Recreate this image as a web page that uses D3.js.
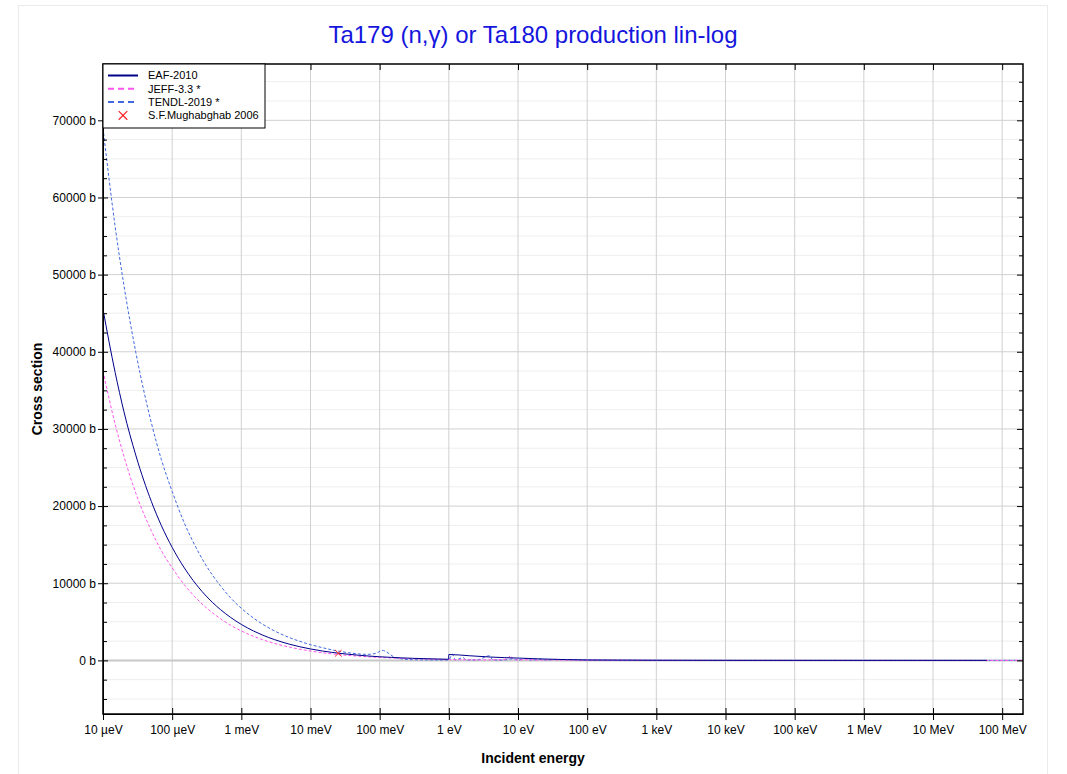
<!DOCTYPE html>
<html>
<head>
<meta charset="utf-8">
<script src="https://cdn.jsdelivr.net/npm/d3@7"></script>
<style>
  body { margin: 0; background: #fff; font-family: "Liberation Sans", Arial, sans-serif; }
</style>
</head>
<body>
<div id="chart"></div>
<script>
// Energies in eV, cross sections in barns
const eafEnergy = [1e-5, 1.5e-5, 2e-5, 3e-5, 5e-5, 7e-5, 1e-4, 1.5e-4, 2e-4, 3e-4, 5e-4, 7e-4, 1e-3, 1.5e-3, 2e-3, 3e-3, 5e-3, 7e-3,
  1e-2, 1.5e-2, 2e-2, 0.0253, 0.035, 0.05, 0.07, 0.1, 0.15, 0.2, 0.3, 0.5, 0.7, 0.99, 1.0, 2, 4, 10, 20, 50, 100, 1e3, 1e4, 1e5, 1e6, 1e7, 6e7];
const eafXs = [45500, 37300, 32300, 26500, 20600, 17450, 14650, 11980, 10380, 8480, 6580, 5570, 4660, 3810, 3300, 2700, 2090, 1770,
  1480, 1210, 1050, 935, 800, 665, 560, 470, 385, 332, 270, 210, 178, 148, 760, 600, 430, 300, 200, 100, 55, 15, 4, 0.8, 0.1, 0.01, 0.002];

const jeffEnergy = [1e-5, 1.5e-5, 2e-5, 3e-5, 5e-5, 7e-5, 1e-4, 1.5e-4, 2e-4, 3e-4, 5e-4, 7e-4, 1e-3, 1.5e-3, 2e-3, 3e-3, 5e-3, 7e-3,
  1e-2, 1.5e-2, 2e-2, 0.0253, 0.035, 0.05, 0.07, 0.1, 0.15, 0.2, 0.3, 0.5, 0.7, 1, 2, 3, 5, 7, 7.8, 8.5, 10, 15, 20, 30, 50, 100, 1e3, 1e4, 1e5, 1e6, 1e7, 2e8];
const jeffXs = [37500, 30600, 26500, 21600, 16800, 14200, 12000, 9800, 8500, 6950, 5400, 4550, 3820, 3120, 2700, 2200, 1710, 1450,
  1210, 990, 855, 760, 645, 540, 455, 380, 310, 265, 215, 165, 135, 105, 70, 60, 80, 200, 600, 150, 60, 90, 40, 60, 30, 20, 8, 2, 0.5, 0.08, 0.005, 0.0005];

const tendlEnergy = [1e-5, 1.5e-5, 2e-5, 3e-5, 5e-5, 7e-5, 1e-4, 1.5e-4, 2e-4, 3e-4, 5e-4, 7e-4, 1e-3, 1.5e-3, 2e-3, 3e-3, 5e-3, 7e-3,
  1e-2, 1.5e-2, 2e-2, 0.0253, 0.035, 0.05, 0.065, 0.08, 0.095, 0.108, 0.12, 0.14, 0.16, 0.2, 0.3, 0.5, 0.9, 1.0, 1.12, 1.25, 1.6, 1.8, 2.5, 3.9, 4.3, 6, 8.5, 10,
  13.5, 15, 22, 25, 35, 40, 60, 100, 1e3, 1e4, 1e5, 1e6, 1e7, 2e8];
const tendlXs = [69000, 56200, 48700, 39800, 30800, 26000, 21900, 17800, 15400, 12500, 9650, 8100, 6750, 5480, 4720, 3830, 2940, 2470,
  2040, 1640, 1380, 1200, 1000, 840, 780, 830, 1050, 1300, 1200, 800, 450, 220, 90, 60, 50, 60, 800, 80, 350, 60, 50, 600, 60, 40, 200, 40,
  250, 40, 150, 40, 120, 100, 90, 40, 10, 3, 0.6, 0.1, 0.01, 0.001];

const expEnergy = [0.0253];
const expXs = [932];

const xTickValues = [1e-5, 1e-4, 1e-3, 1e-2, 1e-1, 1, 10, 100, 1e3, 1e4, 1e5, 1e6, 1e7, 1e8];
const xTickLabels = ["10 µeV", "100 µeV", "1 meV", "10 meV", "100 meV", "1 eV", "10 eV", "100 eV", "1 keV", "10 keV", "100 keV", "1 MeV", "10 MeV", "100 MeV"];

const series = [
  { name: "EAF-2010", energy: eafEnergy, xs: eafXs, color: "#00008b", dash: null },
  { name: "JEFF-3.3 *", energy: jeffEnergy, xs: jeffXs, color: "#ff55ee", dash: "3,2" },
  { name: "TENDL-2019 *", energy: tendlEnergy, xs: tendlXs, color: "#4169e1", dash: "3,2" }
];

const W = 1067, H = 774;
const margin = { top: 64, right: 44, bottom: 60, left: 103 };
const width = W - margin.left - margin.right;
const height = H - margin.top - margin.bottom;

const svg = d3.select("#chart").append("svg")
  .attr("width", W).attr("height", H)
  .style("font-family", '"Liberation Sans", Arial, sans-serif');

// card border
svg.append("rect").attr("x", 18.5).attr("y", 5.5).attr("width", 1029).attr("height", 790)
  .attr("fill", "#fff").attr("stroke", "#ebebeb");

svg.append("text").attr("x", 533).attr("y", 43).attr("text-anchor", "middle")
  .attr("font-size", 24).attr("fill", "#1515dd")
  .text("Ta179 (n,γ) or Ta180 production lin-log");

const g = svg.append("g").attr("transform", `translate(${margin.left},${margin.top})`);

const x = d3.scaleLog().domain([1e-5, 2e8]).range([0, width]);
const y = d3.scaleLinear().domain([-6950, 77300]).range([height, 0]);

const yMinor = d3.range(-5000, 77300, 2500);
const yMajor = d3.range(0, 77300, 10000);

// grid
g.append("g").selectAll("line").data(yMinor.filter(v => v % 10000 !== 0)).join("line")
  .attr("x1", 0).attr("x2", width).attr("y1", d => y(d)).attr("y2", d => y(d))
  .attr("stroke", "#eeeeee");
g.append("g").selectAll("line").data(yMajor).join("line")
  .attr("x1", 0).attr("x2", width).attr("y1", d => y(d)).attr("y2", d => y(d))
  .attr("stroke", d => d === 0 ? "#c8c8c8" : "#d0d0d0").attr("stroke-width", d => d === 0 ? 2 : 1);
g.append("g").selectAll("line").data(xTickValues).join("line")
  .attr("x1", d => x(d)).attr("x2", d => x(d)).attr("y1", 0).attr("y2", height)
  .attr("stroke", "#d0d0d0");

g.append("defs").append("clipPath").attr("id", "clip")
  .append("rect").attr("width", width).attr("height", height);

const line = d3.line().x(d => x(d[0])).y(d => y(d[1])).curve(d3.curveMonotoneX);
const plot = g.append("g").attr("clip-path", "url(#clip)");

// draw TENDL, JEFF, then EAF on top
[series[2], series[1], series[0]].forEach(s => {
  plot.append("path")
    .datum(d3.zip(s.energy, s.xs))
    .attr("d", line)
    .attr("fill", "none")
    .attr("stroke", s.color)
    .attr("stroke-width", 1)
    .attr("stroke-dasharray", s.dash);
});

// experimental point
const cross = d3.symbol().type(d3.symbolX).size(30);
plot.selectAll(".exp").data(d3.zip(expEnergy, expXs)).join("path")
  .attr("transform", d => `translate(${x(d[0])},${y(d[1])})`)
  .attr("d", cross).attr("fill", "none").attr("stroke", "#ff2222").attr("stroke-width", 1);

// axes
const xAxis = d3.axisBottom(x).tickValues(xTickValues).tickFormat((d, i) => xTickLabels[i]).tickSize(6).tickSizeOuter(0);
const gx = g.append("g").attr("transform", `translate(0,${height})`).call(xAxis);
gx.selectAll(".tick line").attr("y1", -6);
gx.selectAll("text").attr("font-size", 12).attr("dy", "0.9em").attr("fill", "#000");

g.append("g").call(d3.axisTop(x).tickValues(xTickValues).tickFormat("").tickSize(-6).tickSizeOuter(0))
  .select(".domain").remove();

const yAxis = d3.axisLeft(y).tickValues(yMajor).tickFormat(d => `${d} b`).tickSize(5).tickSizeOuter(0);
const gy = g.append("g").call(yAxis);
gy.selectAll(".tick line").attr("x2", -5).attr("x1", 5);
gy.selectAll("text").attr("font-size", 12).attr("fill", "#000").attr("x", -7);
g.append("g").call(d3.axisLeft(y).tickValues(yMinor.filter(v => v % 10000 !== 0)).tickFormat("").tickSize(-4).tickSizeOuter(0))
  .select(".domain").remove();
const gr = g.append("g").attr("transform", `translate(${width},0)`);
gr.call(d3.axisRight(y).tickValues(yMajor).tickFormat("").tickSize(-6).tickSizeOuter(0)).select(".domain").remove();
gr.append("g").call(d3.axisRight(y).tickValues(yMinor.filter(v => v % 10000 !== 0)).tickFormat("").tickSize(-4).tickSizeOuter(0))
  .select(".domain").remove();

g.append("rect").attr("width", width).attr("height", height)
  .attr("fill", "none").attr("stroke", "#000").attr("stroke-width", 1.5);

// axis titles
svg.append("text").attr("x", 533).attr("y", 763).attr("text-anchor", "middle")
  .attr("font-size", 14).attr("font-weight", "bold").text("Incident energy");
svg.append("text").attr("transform", `translate(42,${margin.top + height / 2}) rotate(-90)`)
  .attr("text-anchor", "middle").attr("font-size", 14).attr("font-weight", "bold").text("Cross section");

// legend
const legend = g.append("g");
legend.append("rect").attr("x", 0).attr("y", 0).attr("width", 162).attr("height", 64)
  .attr("fill", "#fff").attr("stroke", "#000").attr("stroke-width", 1);
const legendItems = series.map(s => ({ name: s.name, color: s.color, dash: s.dash, type: "line" }))
  .concat([{ name: "S.F.Mughabghab 2006", color: "#ff2222", type: "mark" }]);
legendItems.forEach((d, i) => {
  const ly = 11.5 + i * 13.3;
  if (d.type === "line") {
    legend.append("line").attr("x1", 5).attr("x2", 35).attr("y1", ly).attr("y2", ly)
      .attr("stroke", d.color).attr("stroke-width", 2).attr("stroke-dasharray", d.dash ? "6,4" : null);
  } else {
    legend.append("path").attr("transform", `translate(20,${ly})`)
      .attr("d", d3.symbol().type(d3.symbolX).size(50)).attr("fill", "none")
      .attr("stroke", d.color).attr("stroke-width", 1.2);
  }
  legend.append("text").attr("x", 45).attr("y", ly).attr("dy", "0.35em")
    .attr("font-size", 11).text(d.name);
});
</script>
</body>
</html>
